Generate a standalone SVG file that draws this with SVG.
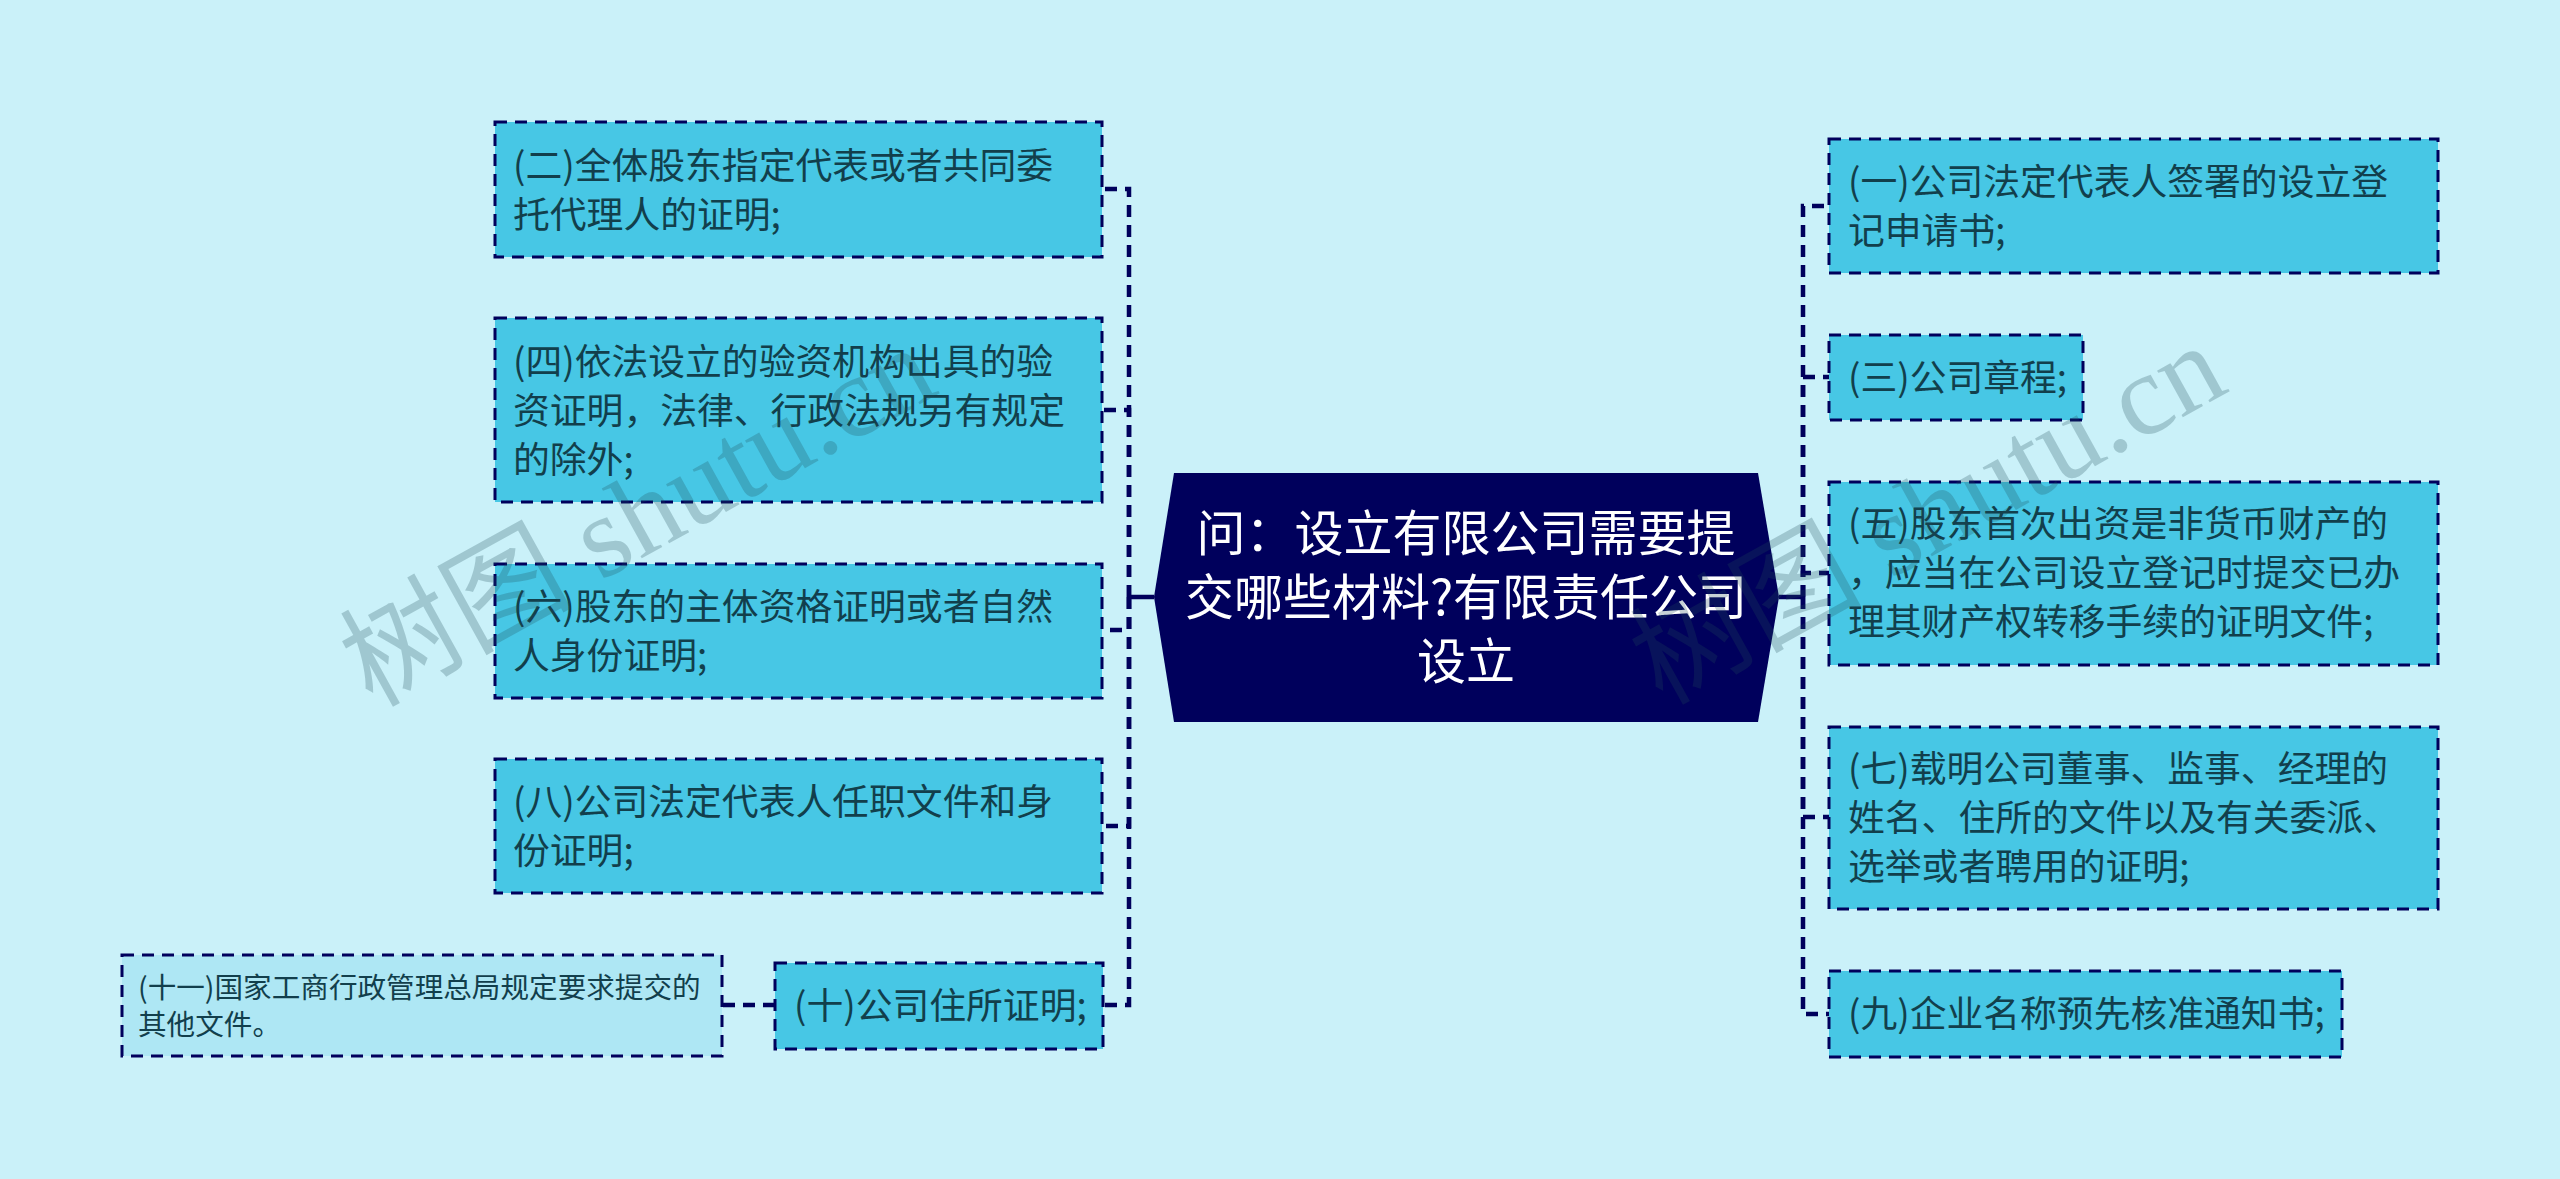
<svg xmlns="http://www.w3.org/2000/svg" width="2560" height="1179" viewBox="0 0 2560 1179">
<style>
text{font-family:"Noto Sans CJK SC","Liberation Sans",sans-serif}
.n rect{fill:#47c7e5;stroke:#00005c;stroke-width:3;stroke-dasharray:12 8}
.n text{font-size:36.8px;fill:#123f4c}
.l rect{fill:#aee7f4;stroke:#00005c;stroke-width:3;stroke-dasharray:12 8}
.l text{font-size:28.6px;fill:#123f4c}
.c path{fill:none;stroke:#00005c;stroke-width:4.5;stroke-dasharray:12 8}
.c path.s{stroke-dasharray:none}
.w{font-family:"Liberation Serif","Noto Sans CJK SC",serif;font-size:116px;fill:#1f4b58;fill-opacity:.25}
</style>
<rect width="2560" height="1179" fill="#caf1f9"/>
<g id="connectors" class="c">
<path class="s" d="M1154 597H1129M1779 597H1803"/>
<path d="M1129 597V189H1102"/>
<path d="M1129 597V410H1102"/>
<path d="M1129 597V630H1102"/>
<path d="M1129 597V826H1102"/>
<path d="M1129 597V1005H1102"/>
<path d="M1803 597V206H1829"/>
<path d="M1803 597V377H1829"/>
<path d="M1803 597V573H1829"/>
<path d="M1803 597V817H1829"/>
<path d="M1803 597V1014H1829"/>
<path d="M775 1005H722"/>
</g>
<g id="root"><polygon points="1154,597 1174,473 1758,473 1779,597 1758,722 1174,722" fill="#00005c"/>
<text font-size="49" fill="#fff" text-anchor="middle"><tspan x="1466" y="551">问：设立有限公司需要提</tspan><tspan x="1466" y="615">交哪些材料?有限责任公司</tspan><tspan x="1466" y="679">设立</tspan></text></g>
<g id="n2" class="n"><rect x="495" y="122" width="607" height="135"/><text><tspan x="513" y="179">(二)全体股东指定代表或者共同委</tspan><tspan x="513" y="228">托代理人的证明;</tspan></text></g>
<g id="n4" class="n"><rect x="495" y="318" width="607" height="184"/><text><tspan x="513" y="375">(四)依法设立的验资机构出具的验</tspan><tspan x="513" y="424">资证明，法律、行政法规另有规定</tspan><tspan x="513" y="473">的除外;</tspan></text></g>
<g id="n6" class="n"><rect x="495" y="564" width="607" height="134"/><text><tspan x="513" y="620">(六)股东的主体资格证明或者自然</tspan><tspan x="513" y="669">人身份证明;</tspan></text></g>
<g id="n8" class="n"><rect x="495" y="759" width="607" height="134"/><text><tspan x="513" y="815">(八)公司法定代表人任职文件和身</tspan><tspan x="513" y="864">份证明;</tspan></text></g>
<g id="n10" class="n"><rect x="775" y="963" width="328" height="86"/><text><tspan x="794" y="1019">(十)公司住所证明;</tspan></text></g>
<g id="n11" class="l"><rect x="122" y="955" width="600" height="101"/><text><tspan x="138" y="998">(十一)国家工商行政管理总局规定要求提交的</tspan><tspan x="138" y="1035">其他文件。</tspan></text></g>
<g id="n1" class="n"><rect x="1829" y="139" width="609" height="134"/><text><tspan x="1848" y="195">(一)公司法定代表人签署的设立登</tspan><tspan x="1848" y="244">记申请书;</tspan></text></g>
<g id="n3" class="n"><rect x="1829" y="335" width="254" height="85"/><text><tspan x="1848" y="391">(三)公司章程;</tspan></text></g>
<g id="n5" class="n"><rect x="1829" y="482" width="609" height="183"/><text><tspan x="1848" y="537">(五)股东首次出资是非货币财产的</tspan><tspan x="1848" y="586">，应当在公司设立登记时提交已办</tspan><tspan x="1848" y="635">理其财产权转移手续的证明文件;</tspan></text></g>
<g id="n7" class="n"><rect x="1829" y="727" width="609" height="182"/><text><tspan x="1848" y="782">(七)载明公司董事、监事、经理的</tspan><tspan x="1848" y="831">姓名、住所的文件以及有关委派、</tspan><tspan x="1848" y="880">选举或者聘用的证明;</tspan></text></g>
<g id="n9" class="n"><rect x="1829" y="971" width="513" height="86"/><text><tspan x="1848" y="1027">(九)企业名称预先核准通知书;</tspan></text></g>
<text class="w" transform="translate(372 708) rotate(-29)">树图 shutu.cn</text>
<text class="w" transform="translate(1662 706) rotate(-29)">树图 shutu.cn</text>
</svg>
